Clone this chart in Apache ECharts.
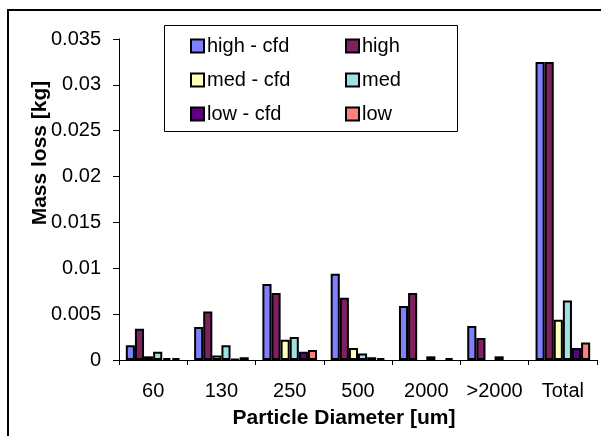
<!DOCTYPE html>
<html>
<head>
<meta charset="utf-8">
<script src="https://cdn.jsdelivr.net/npm/echarts@6/dist/echarts.min.js"></script>
<style>html,body{margin:0;padding:0;background:#fff}#c{width:601px;height:436px}</style>
</head>
<body>
<div id="c"></div>
<script>
var categories = ['60', '130', '250', '500', '2000', '>2000', 'Total'];
var seriesNames = ['high - cfd', 'high', 'med - cfd', 'med', 'low - cfd', 'low'];
var highCfd = [0.0016, 0.0036, 0.0083, 0.0094, 0.0059, 0.0037, 0.0325];
var high    = [0.0034, 0.0053, 0.0073, 0.0068, 0.0073, 0.0024, 0.0325];
var medCfd  = [0.0004, 0.0005, 0.0022, 0.0013, null, null, 0.0044];
var med     = [0.0009, 0.0016, 0.0025, 0.0007, 0.0004, 0.0004, 0.0065];
var lowCfd  = [0.0002, 0.0001, 0.0009, 0.0003, null, null, 0.0013];
var low     = [0.0002, 0.0003, 0.0011, 0.0002, 0.0002, null, 0.0019];
var yTicks = { min: 0, max: 0.035, interval: 0.005 };
var colors = ['#8080FF', '#802060', '#FFFFC0', '#A0E0E0', '#600080', '#FF8080'];

var allData = [highCfd, high, medCfd, med, lowCfd, low];
var font = 'Liberation Sans, Arial, sans-serif';

var chart = echarts.init(document.getElementById('c'), null, { renderer: 'canvas' });
var series = seriesNames.map(function (n, i) {
  return {
    name: n, type: 'bar', data: allData[i],
    barGap: '0%', barCategoryGap: '20%',
    itemStyle: { color: colors[i], borderColor: '#000', borderWidth: 2 }
  };
});
var legendCommon = {
  orient: 'vertical', itemWidth: 13, itemHeight: 13, itemGap: 14, padding: 0,
  icon: 'rect', selectedMode: false, z: 10,
  textStyle: { fontFamily: font, fontSize: 20, color: '#000', lineHeight: 20, padding: [0, 0, 0, -2] }
};
chart.setOption({
  animation: false,
  backgroundColor: '#fff',
  grid: { left: 119, right: 4, top: 39, bottom: 76, containLabel: false },
  xAxis: {
    type: 'category', data: categories,
    axisLine: { lineStyle: { color: '#000', width: 1 } },
    axisTick: { show: true, length: 5, interval: 0, lineStyle: { color: '#000' } },
    axisLabel: { color: '#000', fontFamily: font, fontSize: 20, margin: 21, interval: 0 }
  },
  yAxis: {
    type: 'value', min: yTicks.min, max: yTicks.max, interval: yTicks.interval,
    splitLine: { show: false },
    axisLine: { show: true, lineStyle: { color: '#000', width: 1 } },
    axisTick: { show: true, length: 6, lineStyle: { color: '#000' } },
    axisLabel: { color: '#000', fontFamily: font, fontSize: 20, margin: 18,
      formatter: function (v) { return String(+v.toFixed(3)); } }
  },
  legend: [
    Object.assign({}, legendCommon, { data: [seriesNames[0], seriesNames[2], seriesNames[4]], left: 190, top: 36 }),
    Object.assign({}, legendCommon, { data: [seriesNames[1], seriesNames[3], seriesNames[5]], left: 345, top: 36 })
  ],
  graphic: [
    { type: 'rect', z: 100, silent: true, shape: { x: 8, y: 10, width: 700, height: 600 },
      style: { fill: 'none', stroke: '#000', lineWidth: 2 } },
    { type: 'rect', z: 8, silent: true, shape: { x: 164.5, y: 25.5, width: 293, height: 106 },
      style: { fill: '#fff', stroke: '#000', lineWidth: 1 } },
    { type: 'text', z: 10, x: 40, y: 153, rotation: Math.PI / 2,
      style: { text: 'Mass loss [kg]', fontFamily: font, fontWeight: 'bold', fontSize: 21,
        fill: '#000', align: 'center', verticalAlign: 'middle' } },
    { type: 'text', z: 10, x: 344, y: 418,
      style: { text: 'Particle Diameter [um]', fontFamily: font, fontWeight: 'bold', fontSize: 21,
        fill: '#000', align: 'center', verticalAlign: 'middle' } }
  ],
  series: series
});
</script>
</body>
</html>
